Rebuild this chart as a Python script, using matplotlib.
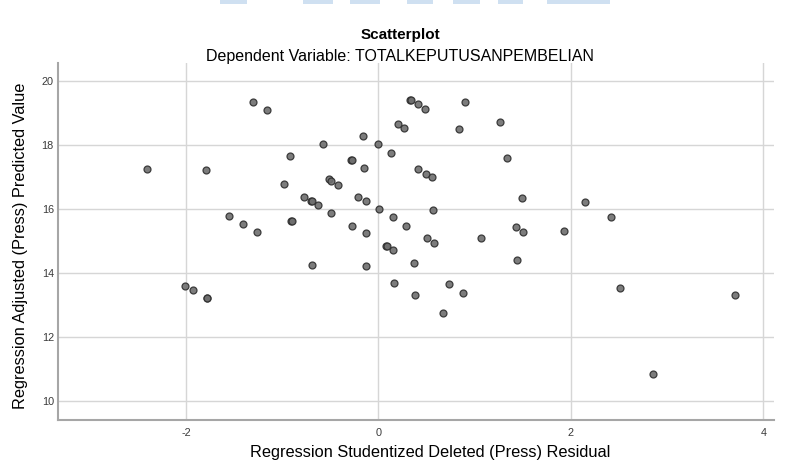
import matplotlib
matplotlib.use("Agg")
import matplotlib.pyplot as plt
from matplotlib.patches import Rectangle

# studentized deleted residual (x) vs adjusted predicted value (y)
resid = [-1.30, -1.16, -2.40, -1.79, -0.575, -0.157, -0.01, -0.92, -0.29, -0.28,
         -0.15, -0.985, -0.51, -0.49, -0.42, -0.77, -0.70, -0.69, -0.63, -0.21,
         -0.13, 0.007, -1.55, -1.41, -1.26, -0.905, -0.90, -0.49, -0.27, -0.13,
         0.33, 0.34, 0.41, 0.48, 0.90, 0.20, 0.27, 0.836, 1.264, 0.13,
         1.337, 0.41, 0.49, 0.56, 1.487, 2.15, 2.42, 0.567, 0.146, 0.29,
         1.43, 1.505, 1.93, 0.505, 1.07, 0.08, 0.084, -0.69, -0.125, -2.01,
         -1.93, -1.78, -1.78, 0.15, 0.37, 0.575, 1.44, 0.164, 0.38, 0.73,
         0.88, 0.67, 2.51, 3.70, 2.85]
predicted = [19.36, 19.10, 17.25, 17.21, 18.04, 18.29, 18.03, 17.67, 17.54, 17.53,
             17.28, 16.78, 16.95, 16.89, 16.76, 16.39, 16.26, 16.25, 16.13, 16.38,
             16.26, 16.00, 15.78, 15.53, 15.28, 15.63, 15.62, 15.88, 15.49, 15.25,
             19.41, 19.40, 19.27, 19.13, 19.36, 18.66, 18.52, 18.49, 18.73, 17.77,
             17.60, 17.25, 17.10, 17.00, 16.35, 16.21, 15.75, 15.98, 15.75, 15.48,
             15.45, 15.30, 15.33, 15.11, 15.09, 14.85, 14.84, 14.26, 14.24, 13.61,
             13.47, 13.23, 13.22, 14.73, 14.33, 14.96, 14.42, 13.71, 13.31, 13.67,
             13.39, 12.76, 13.55, 13.31, 10.85]

xticks = [-2, 0, 2, 4]
yticks = [10, 12, 14, 16, 18, 20]

plt.rcParams['font.family'] = ['Liberation Sans', 'DejaVu Sans']
plt.rcParams['axes.unicode_minus'] = False

fig = plt.figure(figsize=(7.89, 4.66), dpi=100)
ax = fig.add_axes([0.0735, 0.0987, 0.9075, 0.7665])

ax.scatter(resid, predicted, s=25, c='#6e6e6e', edgecolors='#2e2e2e',
           linewidths=0.9, alpha=0.9, zorder=3)

ax.set_xlim(-3.33, 4.11)
ax.set_ylim(9.42, 20.57)
ax.set_xticks(xticks)
ax.set_yticks(yticks)
ax.grid(True, color='#d6d6d6', linewidth=1.0, zorder=0)
ax.set_axisbelow(True)
for s in ['top', 'right']:
    ax.spines[s].set_visible(False)
for s in ['left', 'bottom']:
    ax.spines[s].set_color('#a6a6a6')
    ax.spines[s].set_linewidth(1.5)
ax.tick_params(length=0, labelsize=7.8, labelcolor='#3a3a3a')
ax.tick_params(axis='x', pad=6)
ax.tick_params(axis='y', pad=3)

ax.set_xlabel("Regression Studentized Deleted (Press) Residual", fontsize=11.8, va='center')
ax.set_ylabel("Regression Adjusted (Press) Predicted Value", fontsize=11.8, va='center')
ax.xaxis.set_label_coords(0.52, -0.0896)
ax.yaxis.set_label_coords(-0.053, 0.4885)

fig.text(400 / 789, 1 - 35 / 466, "Scatterplot", ha='center', va='center',
         fontsize=11, fontweight='bold')
fig.text(400 / 789, 1 - 57 / 466, "Dependent Variable: TOTALKEPUTUSANPEMBELIAN",
         ha='center', va='center', fontsize=11.5)

# faint watermark strip at the top edge
for x0, x1 in [(220, 247), (303, 333), (350, 380), (407, 433), (453, 480), (498, 523), (547, 610)]:
    fig.patches.append(Rectangle((x0 / 789, 1 - 4 / 466), (x1 - x0) / 789, 4 / 466,
                                 transform=fig.transFigure, color='#cfe0f1', lw=0))

fig.savefig("out.png", dpi=100)
